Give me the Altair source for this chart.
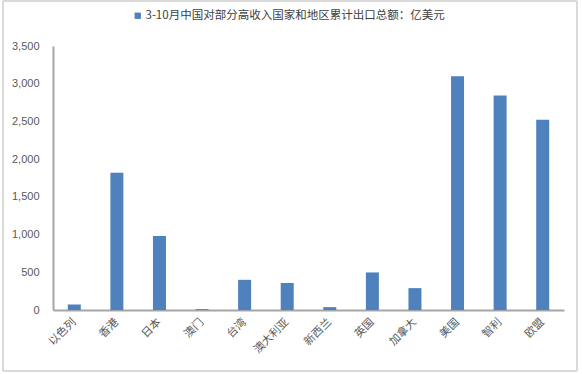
import altair as alt
import pandas as pd

categories = ["以色列", "香港", "日本", "澳门", "台湾", "澳大利亚", "新西兰", "英国", "加拿大", "美国", "智利", "欧盟"]
values = [72, 1818, 980, 12, 400, 358, 38, 498, 290, 3100, 2845, 2522]
series_name = "3-10月中国对部分高收入国家和地区累计出口总额：亿美元"
y_ticks = [0, 500, 1000, 1500, 2000, 2500, 3000, 3500]

df = pd.DataFrame({"region": categories, "value": values, "series": [series_name] * len(categories)})

bars = alt.Chart(df).mark_bar(size=13, color="#4F81BD").encode(
    x=alt.X("region:N", sort=categories, title=None,
            scale=alt.Scale(paddingInner=0, paddingOuter=0),
            axis=alt.Axis(labelAngle=-45, labelAlign="right", labelBaseline="middle",
                          labelPadding=10, ticks=False, domainColor="#a6a6a6", domainWidth=2,
                          labelFont="Noto Sans CJK SC", labelFontSize=11, labelColor="#595959")),
    y=alt.Y("value:Q", title=None,
            scale=alt.Scale(domain=[0, 3500], nice=False),
            axis=alt.Axis(values=y_ticks, format=",d", grid=False, ticks=False, labelPadding=14,
                          domainColor="#a6a6a6", domainWidth=2,
                          labelFont="Liberation Sans", labelFontSize=11, labelColor="#595959")),
    color=alt.Color("series:N", scale=alt.Scale(range=["#4F81BD"]),
                    legend=alt.Legend(title=None, orient="none", legendX=79, legendY=-36,
                                      symbolType="square", symbolSize=40, symbolStrokeWidth=0,
                                      labelFont="Noto Sans CJK SC", labelFontSize=11.5,
                                      labelLimit=600,
                                      labelColor="#404040", labelOffset=2)),
)

border = alt.Chart(df).mark_rect(fill=None, stroke="#d9d9d9", strokeWidth=1).encode(
    x=alt.value(-50), x2=alt.value(524), y=alt.value(-45), y2=alt.value(325)
)

chart = alt.layer(border, bars).properties(
    width=511, height=264,
    autosize=alt.AutoSizeParams(type="none"),
    padding={"left": 53, "top": 46, "right": 18, "bottom": 64},
    background="white",
).configure_view(stroke=None)

chart.save("out.html", embed_options={"renderer": "svg", "actions": False})
